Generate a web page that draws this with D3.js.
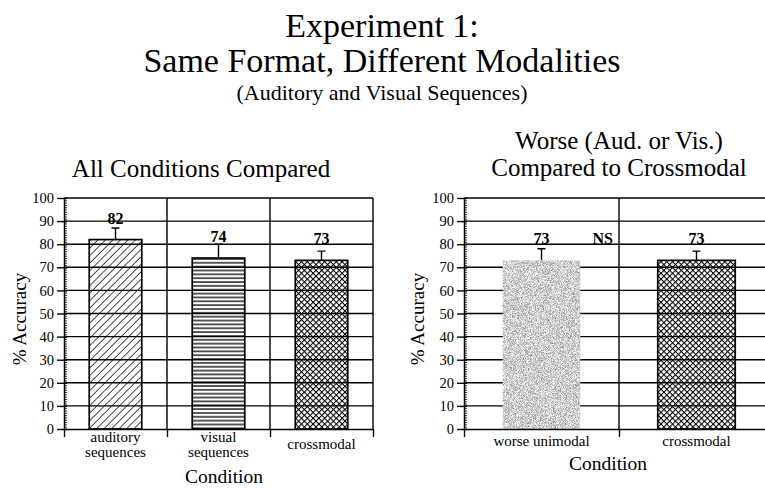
<!DOCTYPE html>
<html>
<head>
<meta charset="utf-8">
<script src="https://cdn.jsdelivr.net/npm/d3@7"></script>
<style>
  body { margin: 0; background: #fff; }
  svg text { font-family: "Liberation Serif", "Times New Roman", Times, "DejaVu Serif", serif; fill: #000; }
</style>
</head>
<body>
<svg id="main"></svg>
<script>
var w = 765;
var h = 488;
var serif = "'Liberation Serif', 'Times New Roman', Times, 'DejaVu Serif', serif";

// values
var yTicks = [0, 10, 20, 30, 40, 50, 60, 70, 80, 90, 100];
var leftCategories = [["auditory", "sequences"], ["visual", "sequences"], ["crossmodal"]];
var leftValues = [82, 74, 73];
var leftErrTop = [87, 80, 77];
var leftFills = ["url(#diag)", "url(#horiz)", "url(#cross)"];

var rightCategories = [["worse unimodal"], ["crossmodal"]];
var rightValues = [73, 73];
var rightErrTop = [78, 77];
var rightFills = ["stipple", "url(#cross)"];

var svg = d3.select("#main")
  .attr("width", w)
  .attr("height", h);

// patterns
var defs = svg.append("defs");

defs.append("pattern")
  .attr("id", "diag")
  .attr("patternUnits", "userSpaceOnUse")
  .attr("width", 5.3).attr("height", 10)
  .attr("patternTransform", "rotate(45)")
  .append("line")
  .attr("x1", 0).attr("y1", 0).attr("x2", 0).attr("y2", 10)
  .attr("stroke", "#000").attr("stroke-width", 1.4);

defs.append("pattern")
  .attr("id", "horiz")
  .attr("patternUnits", "userSpaceOnUse")
  .attr("width", 10).attr("height", 3.85)
  .append("line")
  .attr("x1", 0).attr("y1", 1).attr("x2", 10).attr("y2", 1)
  .attr("stroke", "#000").attr("stroke-width", 1.3);

var cross = defs.append("pattern")
  .attr("id", "cross")
  .attr("patternUnits", "userSpaceOnUse")
  .attr("width", 4.1).attr("height", 4.1)
  .attr("patternTransform", "rotate(45)");
cross.append("line")
  .attr("x1", 0.5).attr("y1", 0).attr("x2", 0.5).attr("y2", 4.1)
  .attr("stroke", "#000").attr("stroke-width", 1.1);
cross.append("line")
  .attr("x1", 0).attr("y1", 0.5).attr("x2", 4.1).attr("y2", 0.5)
  .attr("stroke", "#000").attr("stroke-width", 1.1);

var filt = defs.append("filter")
  .attr("id", "stippleFilter")
  .attr("x", 0).attr("y", 0).attr("width", 1).attr("height", 1)
  .attr("color-interpolation-filters", "sRGB");
filt.append("feTurbulence")
  .attr("type", "fractalNoise")
  .attr("baseFrequency", 1.4)
  .attr("numOctaves", 2)
  .attr("seed", 4)
  .attr("result", "noise");
filt.append("feColorMatrix")
  .attr("in", "noise")
  .attr("type", "matrix")
  .attr("values", "0.9 0 0 0 0.36  0.9 0 0 0 0.36  0.9 0 0 0 0.36  0 0 0 0 1")
  .attr("result", "gray");
filt.append("feComposite")
  .attr("in", "gray").attr("in2", "SourceGraphic").attr("operator", "in");

// titles
function addText(sel, x, y, size, str) {
  return sel.append("text")
    .attr("x", x).attr("y", y)
    .attr("text-anchor", "middle")
    .attr("font-family", serif)
    .style("font-size", size + "px")
    .text(str);
}
addText(svg, 382, 37, 34, "Experiment 1:");
addText(svg, 382, 72, 34, "Same Format, Different Modalities");
addText(svg, 382, 100, 22, "(Auditory and Visual Sequences)");

var yTop = 198;
var yBottom = 429;

var yScale = d3.scaleLinear()
  .domain([0, 100])
  .range([yBottom, yTop]);

function drawPanel(opts) {
  var n = opts.categories.length;
  var g = svg.append("g");

  var xBand = d3.scaleBand()
    .domain(d3.range(n))
    .range([opts.x0, opts.x1])
    .paddingInner(opts.pad)
    .paddingOuter(opts.pad / 2);

  var xEdge = d3.scaleLinear()
    .domain([0, n])
    .range([opts.x0, opts.x1]);

  // horizontal grid
  g.selectAll(".hgrid")
    .data(yTicks.slice(1))
    .enter()
    .append("line")
    .attr("x1", opts.x0).attr("x2", opts.x1)
    .attr("y1", function(d) { return yScale(d); })
    .attr("y2", function(d) { return yScale(d); })
    .attr("stroke", "#000").attr("stroke-width", 1.4);

  // vertical separators
  g.selectAll(".vgrid")
    .data(d3.range(1, n + 1))
    .enter()
    .append("line")
    .attr("x1", function(d) { return xEdge(d); })
    .attr("x2", function(d) { return xEdge(d); })
    .attr("y1", yTop).attr("y2", yBottom)
    .attr("stroke", "#000").attr("stroke-width", 1.4);

  // bars
  g.selectAll(".bar")
    .data(opts.values)
    .enter()
    .append("rect")
    .attr("x", function(d, i) { return xBand(i); })
    .attr("y", function(d) { return yScale(d); })
    .attr("width", xBand.bandwidth())
    .attr("height", function(d) { return yBottom - yScale(d); })
    .attr("fill", function(d, i) { return opts.fills[i] === "stipple" ? "#fff" : opts.fills[i]; })
    .attr("filter", function(d, i) { return opts.fills[i] === "stipple" ? "url(#stippleFilter)" : null; })
    .attr("stroke", function(d, i) { return opts.fills[i] === "stipple" ? "none" : "#000"; })
    .attr("stroke-width", 1.7);

  // error bars
  g.selectAll(".err")
    .data(opts.errTop)
    .enter()
    .append("path")
    .attr("d", function(d, i) {
      var cx = xBand(i) + xBand.bandwidth() / 2;
      return "M" + cx + "," + yScale(opts.values[i]) + "V" + yScale(d) +
        "M" + (cx - 4) + "," + yScale(d) + "H" + (cx + 4);
    })
    .attr("fill", "none").attr("stroke", "#000").attr("stroke-width", 1.4);

  // value labels
  g.selectAll(".val")
    .data(opts.values)
    .enter()
    .append("text")
    .attr("x", function(d, i) { return xBand(i) + xBand.bandwidth() / 2; })
    .attr("y", function(d) { return yScale(d) - 16; })
    .attr("text-anchor", "middle")
    .attr("font-family", serif)
    .style("font-size", "16px").style("font-weight", "bold")
    .text(function(d) { return d; });

  // y axis: major ticks
  var yAxis = d3.axisLeft(yScale)
    .tickValues(yTicks)
    .tickSizeInner(7)
    .tickSizeOuter(0)
    .tickPadding(3);
  var ya = g.append("g")
    .attr("transform", "translate(" + opts.x0 + ",0)")
    .call(yAxis)
    .attr("font-family", serif)
    .attr("font-size", 14.5);
  ya.select(".domain").attr("stroke-width", 1.5);
  ya.selectAll(".tick line").attr("stroke-width", 1.4).attr("x2", -7).attr("x1", 3);
  ya.selectAll("text").attr("fill", "#000");

  // y axis: minor ticks
  var yMinor = d3.axisRight(yScale)
    .tickValues(d3.range(0, 101))
    .tickSize(3)
    .tickFormat("");
  var ym = g.append("g")
    .attr("transform", "translate(" + opts.x0 + ",0)")
    .call(yMinor);
  ym.select(".domain").remove();
  ym.selectAll(".tick line").attr("stroke-width", 0.8);

  // x axis with ticks at category edges
  var xAxis = d3.axisBottom(xEdge)
    .tickValues(d3.range(0, n + 1))
    .tickSizeInner(8)
    .tickSizeOuter(0)
    .tickFormat("");
  var xa = g.append("g")
    .attr("transform", "translate(0," + yBottom + ")")
    .call(xAxis);
  xa.select(".domain").attr("stroke-width", 1.7);
  xa.selectAll(".tick line").attr("stroke-width", 1.4);

  // category labels
  opts.categories.forEach(function(lines, i) {
    var cx = xBand(i) + xBand.bandwidth() / 2;
    var t = g.append("text")
      .attr("x", cx)
      .attr("text-anchor", "middle")
      .attr("font-family", serif)
      .style("font-size", "15px");
    var y0 = lines.length > 1 ? opts.labelY - 7.5 : opts.labelY;
    lines.forEach(function(s, k) {
      t.append("tspan").attr("x", cx).attr("y", y0 + k * 15.5).text(s);
    });
  });

  // axis titles
  g.append("text")
    .attr("transform", "translate(" + opts.yTitleX + "," + 319 + ") rotate(-90)")
    .attr("text-anchor", "middle")
    .attr("font-family", serif)
    .style("font-size", "19px")
    .text("% Accuracy");
  addText(g, opts.condX, opts.condY, 19.5, "Condition");

  // panel title
  opts.title.forEach(function(s, k) {
    addText(g, opts.titleX, opts.titleY + k * 27, 25, s);
  });

  return { xBand: xBand, xEdge: xEdge, g: g };
}

drawPanel({
  x0: 64, x1: 373, pad: 0.49,
  categories: leftCategories, values: leftValues, errTop: leftErrTop, fills: leftFills,
  labelY: 449, yTitleX: 26, condX: 224, condY: 483,
  title: ["All Conditions Compared"], titleX: 201, titleY: 177
});

var right = drawPanel({
  x0: 464, x1: 774, pad: 0.5,
  categories: rightCategories, values: rightValues, errTop: rightErrTop, fills: rightFills,
  labelY: 446, yTitleX: 424, condX: 608, condY: 470,
  title: ["Worse (Aud. or Vis.)", "Compared to Crossmodal"], titleX: 619, titleY: 149
});

// NS marker between the two right-hand bars
right.g.append("text")
  .attr("x", right.xEdge(1) - 6)
  .attr("y", yScale(rightValues[0]) - 16)
  .attr("text-anchor", "end")
  .attr("font-family", serif)
  .style("font-size", "16px").style("font-weight", "bold")
  .text("NS");
</script>
</body>
</html>
